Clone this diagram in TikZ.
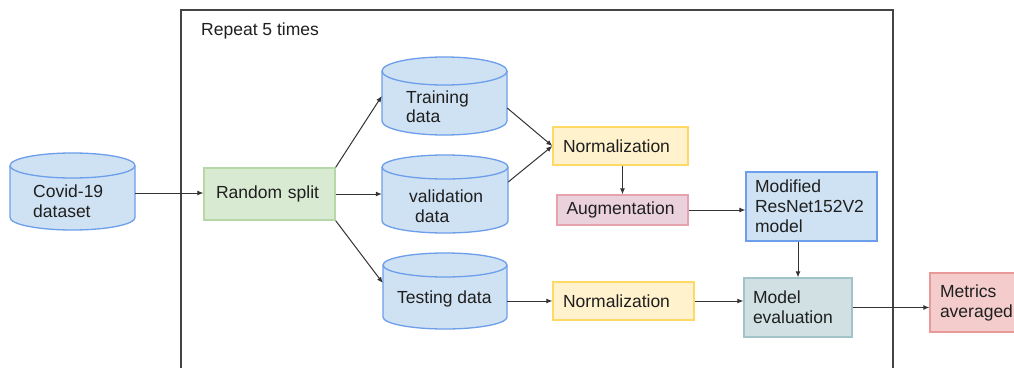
\documentclass[tikz,border=0pt]{standalone}
\usepackage{fontspec}
\setmainfont{Liberation Sans}
\usetikzlibrary{arrows.meta}
\definecolor{cylfill}{HTML}{CFE2F3}
\definecolor{cyldraw}{HTML}{6D9EEB}
\definecolor{grfill}{HTML}{D9EAD3}
\definecolor{grdraw}{HTML}{B6D7A8}
\definecolor{yefill}{HTML}{FFF2CC}
\definecolor{yedraw}{HTML}{FFD966}
\definecolor{pkfill}{HTML}{EAD1DC}
\definecolor{pkdraw}{HTML}{E6A3AE}
\definecolor{tlfill}{HTML}{D0E0E3}
\definecolor{tldraw}{HTML}{A2C4C9}
\definecolor{rdfill}{HTML}{F4CCCC}
\definecolor{rddraw}{HTML}{EA9999}
\definecolor{linec}{HTML}{333333}
\definecolor{framec}{HTML}{444444}
\newcommand{\mycyl}[5]{%
  \pgfmathsetmacro\myrx{(#2-#1)/2}%
  \path[cylpath] (#1,#3+#5) -- (#1,#4-#5)
    arc[start angle=180,end angle=360,x radius=\myrx pt,y radius=#5pt]
    -- (#2,#3+#5)
    arc[start angle=0,end angle=180,x radius=\myrx pt,y radius=#5pt] -- cycle;
  \draw[draw=cyldraw,line width=1.3pt] (#1,#3+#5)
    arc[start angle=180,end angle=360,x radius=\myrx pt,y radius=#5pt];
}
\tikzset{
  txt/.style={font=\fontsize{17.5}{20}\selectfont, text=black!88, inner sep=0pt},
  box/.style={rectangle, line width=1.3pt, align=left,
    font=\fontsize{17.5}{20}\selectfont, text=black!88,
    inner xsep=10pt, inner ysep=0pt},
  cylslot/.style={rectangle, inner sep=0pt},
  cylpath/.style={draw=cyldraw, fill=cylfill, line width=1.3pt},
  conn/.style={draw=linec, line width=1pt, -{Latex[length=6pt,width=5pt]}},
}
\begin{document}
\begin{tikzpicture}[x=1pt,y=-1pt]
\useasboundingbox (0,0) rectangle (1014,367);
\clip (0,0) rectangle (1014,367);
\fill[white] (0,0) rectangle (1014,367);

% repeat frame
\draw[draw=framec, line width=1.5pt] (181,380) -- (181,10) -- (893,10) -- (893,380);
\node[txt, anchor=base west] (rep) at (201,35) {Repeat 5 times};

% cylinders
\mycyl{10}{135}{153}{230}{12.5}
\node[cylslot, minimum width=125pt, minimum height=77pt] (covid) at (72.5,191.5) {};
\node[txt, anchor=base west] (covidt1) at (33,197) {Covid-19};
\node[txt, anchor=base west] (covidt2) at (33,217) {dataset};

\mycyl{382}{507}{57}{135}{14}
\node[cylslot, minimum width=125pt, minimum height=78pt] (train) at (444.5,96) {};
\node[txt, anchor=base west] (traint1) at (406,103) {Training};
\node[txt, anchor=base west] (traint2) at (406,122) {data};

\mycyl{382}{508}{155}{233}{12}
\node[cylslot, minimum width=126pt, minimum height=78pt] (valid) at (445,194) {};
\node[txt, anchor=base west] (validt1) at (409,202) {validation};
\node[txt, anchor=base west] (validt2) at (415,222) {data};

\mycyl{383}{507}{253}{329}{12}
\node[cylslot, minimum width=124pt, minimum height=76pt] (test) at (445,291) {};
\node[txt, anchor=base west] (testt) at (397,303) {Testing data};

% boxes
\node[box, draw=grdraw, fill=grfill, text width=107pt, inner xsep=12pt, minimum height=52pt] (rsplit) at (269.5,194) {Random split};
\node[box, draw=yedraw, fill=yefill, text width=115pt, minimum height=38pt] (norm1) at (620.5,146) {Normalization};
\node[box, draw=pkdraw, fill=pkfill, text width=112pt, inner xsep=9.5pt, minimum height=30pt] (aug) at (622.5,210) {Augmentation};
\node[box, draw=cyldraw, fill=cylfill, text width=113pt, inner xsep=9pt, minimum height=69pt] (resnet) at (811.5,206.5) {Modified\\ResNet152V2\\model};
\node[box, draw=yedraw, fill=yefill, text width=121pt, minimum height=38pt] (norm2) at (623.5,301) {Normalization};
\node[box, draw=tldraw, fill=tlfill, text width=90pt, inner xsep=9pt, minimum height=59pt] (eval) at (798,307.5) {Model\\evaluation};
\node[box, draw=rddraw, fill=rdfill, text width=75pt, minimum height=59pt] (metrics) at (977.5,302.5) {Metrics\\averaged};

% connectors
\draw[conn] (covid.east |- 0,193) -- (rsplit.west |- 0,193);
\draw[conn] (rsplit.north east) -- (train.west);
\draw[conn] (rsplit.east) -- (valid.west);
\draw[conn] (rsplit.south east) -- ([yshift=8pt]test.west);
\draw[conn] ([yshift=-12pt]train.east) -- (norm1.west);
\draw[conn] ([yshift=12pt]valid.east) -- (norm1.west);
\draw[conn] (aug.north |- norm1.south) -- (aug.north);
\draw[conn] (aug.east) -- (aug.east -| resnet.west);
\draw[conn] (eval.north |- resnet.south) -- (eval.north);
\draw[conn] (test.east |- norm2.west) -- (norm2.west);
\draw[conn] (norm2.east) -- (norm2.east -| eval.west);
\draw[conn] (eval.east) -- (eval.east -| metrics.west);
\end{tikzpicture}
\end{document}
